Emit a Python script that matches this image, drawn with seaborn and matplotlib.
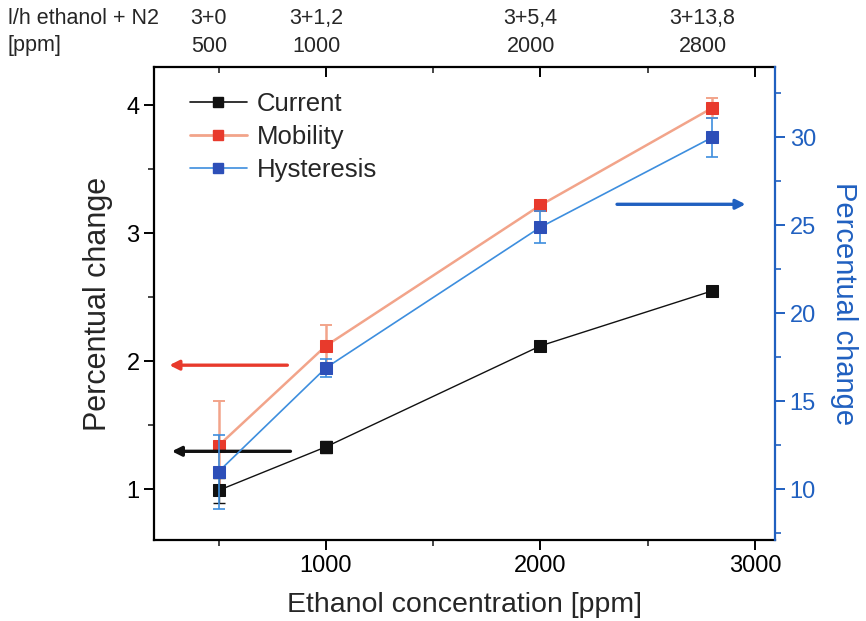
import numpy as np
import pandas as pd
import matplotlib
matplotlib.use("Agg")
import matplotlib.pyplot as plt
from matplotlib.ticker import MultipleLocator, FixedLocator
from matplotlib.lines import Line2D
import seaborn as sns

# ---- data ----
conc = [500, 1000, 2000, 2800]
flow_labels = ["3+0", "3+1,2", "3+5,4", "3+13,8"]
ppm_labels = ["500", "1000", "2000", "2800"]

current = [0.99, 1.33, 2.12, 2.55]
current_err = [0.10, 0.05, 0.04, 0.04]
mobility = [1.34, 2.12, 3.22, 3.98]
mobility_err = [0.35, 0.16, 0.03, 0.08]
hysteresis = [11.0, 16.9, 24.9, 30.0]
hysteresis_err = [2.1, 0.5, 0.9, 1.1]

BLUE_AX = "#2060c0"
C_CUR = "#111111"
C_MOB_M = "#e83a2c"
C_MOB_L = "#f2a48a"
C_HYS_M = "#2d4fb8"
C_HYS_L = "#3d8ede"

sns.set_theme(style="ticks")
plt.rcParams['font.family'] = ['Liberation Sans', 'DejaVu Sans']

df = pd.DataFrame({"conc": conc * 2,
                   "val": current + mobility,
                   "series": ["Current"] * 4 + ["Mobility"] * 4})

fig = plt.figure(figsize=(8.66, 6.21), dpi=100)
ax = fig.add_axes([0.178, 0.130, 0.717, 0.762])
ax2 = ax.twinx()

# left axis: current & mobility
ax.errorbar(conc, mobility, yerr=mobility_err, fmt="none", ecolor=C_MOB_L,
            elinewidth=1.8, capsize=4, capthick=1.4, zorder=2)
ax.errorbar(conc, current, yerr=current_err, fmt="none", ecolor=C_CUR,
            elinewidth=1.0, capsize=4, capthick=1.0, zorder=2)
sns.lineplot(data=df[df.series == "Mobility"], x="conc", y="val", ax=ax,
             color=C_MOB_L, lw=1.8, marker="s", markersize=8,
             markerfacecolor=C_MOB_M, markeredgecolor=C_MOB_M, zorder=3, legend=False)
sns.lineplot(data=df[df.series == "Current"], x="conc", y="val", ax=ax,
             color=C_CUR, lw=1.0, marker="s", markersize=8,
             markerfacecolor=C_CUR, markeredgecolor=C_CUR, zorder=3, legend=False)

# right axis: hysteresis
dh = pd.DataFrame({"conc": conc, "val": hysteresis})
ax2.errorbar(conc, hysteresis, yerr=hysteresis_err, fmt="none", ecolor=C_HYS_L,
             elinewidth=1.2, capsize=4, capthick=1.2, zorder=2)
sns.lineplot(data=dh, x="conc", y="val", ax=ax2, color=C_HYS_L, lw=1.2,
             marker="s", markersize=8, markerfacecolor=C_HYS_M,
             markeredgecolor=C_HYS_M, zorder=3, legend=False)

# limits & ticks
ax.set_xlim(200, 3093)
ax.set_ylim(0.6, 4.3)
ax2.set_ylim(7.1, 34.0)
ax.xaxis.set_major_locator(FixedLocator([1000, 2000, 3000]))
ax.xaxis.set_minor_locator(FixedLocator([500, 1500, 2500]))
ax.yaxis.set_major_locator(MultipleLocator(1))
ax.yaxis.set_minor_locator(MultipleLocator(0.5))
ax2.yaxis.set_major_locator(MultipleLocator(5))
ax2.yaxis.set_minor_locator(MultipleLocator(2.5))

ax.tick_params(axis="both", which="major", labelsize=17, length=7, width=1.4,
               direction="out", colors="black")
ax.tick_params(axis="both", which="minor", length=4, width=1.2, direction="out")
ax.tick_params(axis="x", which="both", top=True, labeltop=False)
for t in ax.xaxis.get_major_ticks() + ax.xaxis.get_minor_ticks():
    t.tick2line.set_marker(3)  # inward tick on top
ax2.tick_params(axis="y", which="major", labelsize=17, length=7, width=1.4,
                direction="out", colors=BLUE_AX, labelcolor=BLUE_AX)
ax2.tick_params(axis="y", which="minor", length=4, width=1.2, direction="out", colors=BLUE_AX)

for sp in ["left", "bottom", "top"]:
    ax.spines[sp].set_linewidth(1.6)
    ax.spines[sp].set_color("black")
ax2.spines["right"].set_color(BLUE_AX)
ax2.spines["right"].set_linewidth(1.6)
ax2.spines["left"].set_visible(False)
ax2.spines["top"].set_visible(False)
ax2.spines["bottom"].set_visible(False)
ax.spines["right"].set_visible(False)

ax.set_xlabel("Ethanol concentration [ppm]", fontsize=20.5, labelpad=11)
ax.set_ylabel("Percentual change", fontsize=22, labelpad=10)
ax2.set_ylabel("Percentual change", fontsize=21, color=BLUE_AX, rotation=270, labelpad=30)

# top annotations
for c, fl, pl in zip(conc, flow_labels, ppm_labels):
    ax.annotate(fl, xy=(c, 1), xycoords=("data", "axes fraction"),
                xytext=(-7, 35), textcoords="offset points", ha="center",
                va="center", fontsize=15.5)
    ax.annotate(pl, xy=(c, 1), xycoords=("data", "axes fraction"),
                xytext=(-7, 15), textcoords="offset points", ha="center",
                va="center", fontsize=15.5)
fig.text(0.009, 0.971, "l/h ethanol + N2", fontsize=15.5, ha="left", va="center")
fig.text(0.009, 0.926, "[ppm]", fontsize=15.5, ha="left", va="center")

# direction arrows
ax.annotate("", xy=(0.020, 0.370), xycoords="axes fraction", xytext=(0.219, 0.370),
            arrowprops=dict(arrowstyle="-|>", color=C_MOB_M, lw=2.4, mutation_scale=14))
ax.annotate("", xy=(0.024, 0.188), xycoords="axes fraction", xytext=(0.224, 0.188),
            arrowprops=dict(arrowstyle="-|>", color=C_CUR, lw=2.4, mutation_scale=14))
ax.annotate("", xy=(0.957, 0.710), xycoords="axes fraction", xytext=(0.741, 0.710),
            arrowprops=dict(arrowstyle="-|>", color=BLUE_AX, lw=2.4, mutation_scale=14))

# legend
handles = [
    Line2D([], [], color=C_CUR, lw=1.2, marker="s", markersize=7, markerfacecolor=C_CUR, markeredgecolor=C_CUR),
    Line2D([], [], color=C_MOB_L, lw=2.0, marker="s", markersize=7, markerfacecolor=C_MOB_M, markeredgecolor=C_MOB_M),
    Line2D([], [], color=C_HYS_L, lw=1.2, marker="s", markersize=7, markerfacecolor=C_HYS_M, markeredgecolor=C_HYS_M),
]
ax2.legend(handles, ["Current", "Mobility", "Hysteresis"], loc="upper left",
           bbox_to_anchor=(0.058, 0.948), frameon=False, fontsize=18.5,
           borderaxespad=0, borderpad=0,
           handlelength=2.2, handletextpad=0.4, labelspacing=0.36)

fig.savefig("out.png", dpi=100, facecolor="white")
